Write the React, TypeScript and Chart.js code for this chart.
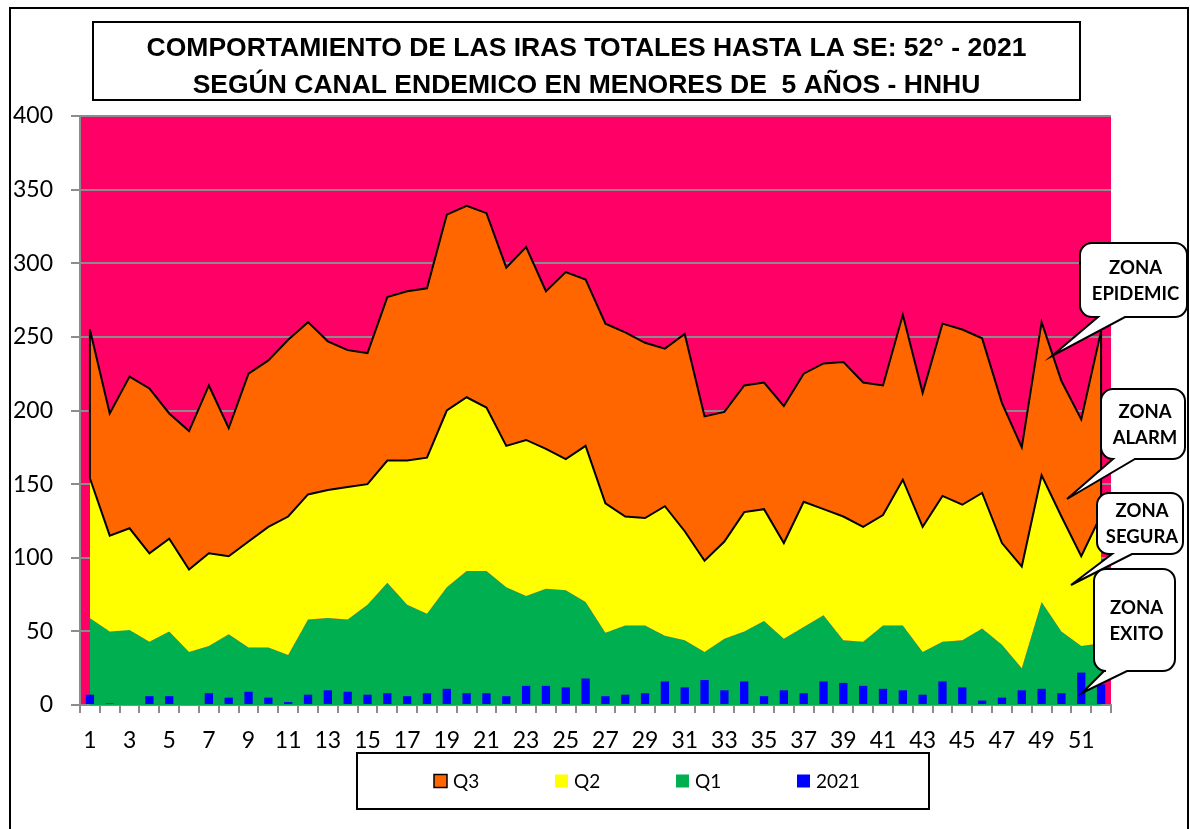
import React, { useEffect, useRef } from 'react';
import { Chart, registerables } from 'chart.js';

Chart.register(...registerables);

const WEEKS = ['1','2','3','4','5','6','7','8','9','10','11','12','13','14','15','16','17','18','19','20','21','22','23','24','25','26','27','28','29','30','31','32','33','34','35','36','37','38','39','40','41','42','43','44','45','46','47','48','49','50','51','52'];

const Q3 = [255,198,223,215,198,186,217,188,225,234,248,260,247,241,239,277,281,283,333,339,334,297,311,281,294,289,259,253,246,242,252,196,199,217,219,203,225,232,233,219,217,265,212,259,255,249,205,175,260,220,194,254];
const Q2 = [154,115,120,103,113,92,103,101,111,121,128,143,146,148,150,166,166,168,200,209,202,176,180,174,167,176,137,128,127,135,118,98,111,131,133,110,138,133,128,121,129,153,121,142,136,144,110,94,156,128,101,129];
const Q1 = [59,50,51,43,50,36,40,48,39,39,34,58,59,58,68,83,68,62,80,91,91,80,74,79,78,70,49,54,54,47,44,36,45,50,57,45,53,61,44,43,54,54,36,43,44,52,41,25,70,50,40,42];
const Y2021 = [7,1,0,6,6,0,8,5,9,5,2,7,10,9,7,8,6,8,11,8,8,6,13,13,12,18,6,7,8,16,12,17,10,16,6,10,8,16,15,13,11,10,7,16,12,3,5,10,11,8,22,14];

const SERIES_LABELS = ['Q3', 'Q2', 'Q1', '2021'];
const Y_MIN = 0;
const Y_MAX = 400;
const Y_STEP = 50;

const TITLE_LINES = [
  'COMPORTAMIENTO DE LAS IRAS TOTALES HASTA LA SE: 52° - 2021',
  'SEGÚN CANAL ENDEMICO EN MENORES DE  5 AÑOS - HNHU',
];

const ZONE_LABELS = [
  ['ZONA', 'EPIDEMIC'],
  ['ZONA', 'ALARM'],
  ['ZONA', 'SEGURA'],
  ['ZONA', 'EXITO'],
];

// callout geometry (box x0,y0,x1,y1, tail base left/right, tail tip)
const CALLOUT_LAYOUT = [
  { x0: 1080, y0: 243, x1: 1187, y1: 317, bl: 1098, br: 1125, tx: 1052, ty: 356 },
  { x0: 1101, y0: 389, x1: 1185, y1: 459, bl: 1113, br: 1135, tx: 1067, ty: 499 },
  { x0: 1097, y0: 493, x1: 1183, y1: 554, bl: 1112, br: 1132, tx: 1071, ty: 585 },
  { x0: 1094, y0: 569, x1: 1175, y1: 671, bl: 1104, br: 1127, tx: 1082, ty: 693 },
];

const COLORS = {
  epidemic: '#FF0066',
  q3: '#FF6600',
  q2: '#FFFF00',
  q1: '#00B050',
  y2021: '#0000FF',
  grid: '#8C8C8C',
};

const TICK_FONT = { family: 'Lato, "Open Sans", sans-serif', size: 23 };

function calloutPath(ctx: CanvasRenderingContext2D, c: any, r: number) {
  const { x0, y0, x1, y1, bl, br, tx, ty } = c;
  ctx.beginPath();
  ctx.moveTo(x0 + r, y0);
  ctx.lineTo(x1 - r, y0);
  ctx.arcTo(x1, y0, x1, y0 + r, r);
  ctx.lineTo(x1, y1 - r);
  ctx.arcTo(x1, y1, x1 - r, y1, r);
  ctx.lineTo(br, y1);
  ctx.lineTo(tx, ty);
  ctx.lineTo(bl, y1);
  ctx.lineTo(x0 + r, y1);
  ctx.arcTo(x0, y1, x0, y1 - r, r);
  ctx.lineTo(x0, y0 + r);
  ctx.arcTo(x0, y0, x0 + r, y0, r);
  ctx.closePath();
}

const decorPlugin = {
  id: 'decor',
  beforeDraw(chart: any) {
    const { ctx, chartArea: a } = chart;
    ctx.save();
    ctx.fillStyle = COLORS.epidemic;
    ctx.fillRect(a.left, a.top, a.right - a.left, a.bottom - a.top);
    ctx.restore();
  },
  afterDatasetsDraw(chart: any) {
    const { ctx } = chart;
    const top = chart.getDatasetMeta(0).data;
    const bot = chart.getDatasetMeta(1).data;
    ctx.save();
    ctx.strokeStyle = '#000';
    ctx.lineWidth = 2;
    [0, top.length - 1].forEach((i) => {
      ctx.beginPath();
      ctx.moveTo(top[i].x, top[i].y);
      ctx.lineTo(bot[i].x, bot[i].y);
      ctx.stroke();
    });
    ctx.restore();
  },
  afterDraw(chart: any) {
    const { ctx } = chart;
    ctx.save();
    // outer frame
    ctx.strokeStyle = '#000';
    ctx.lineWidth = 2;
    ctx.beginPath();
    ctx.moveTo(10, 850);
    ctx.lineTo(10, 8);
    ctx.lineTo(1188, 8);
    ctx.lineTo(1188, 850);
    ctx.stroke();

    // title box
    ctx.fillStyle = '#fff';
    ctx.fillRect(93, 22, 987, 78);
    ctx.strokeRect(93, 22, 987, 78);
    ctx.fillStyle = '#000';
    ctx.font = 'bold 26.5px "Liberation Sans", Arial, sans-serif';
    ctx.textAlign = 'center';
    ctx.textBaseline = 'middle';
    ctx.fillText(TITLE_LINES[0], 586.5, 49);
    ctx.fillText(TITLE_LINES[1], 586.5, 86);

    // legend box
    ctx.strokeRect(357, 753, 572, 56);
    const ds = chart.data.datasets;
    ctx.font = '19px Lato, "Open Sans", sans-serif';
    ctx.textAlign = 'left';
    ds.forEach((d: any, i: number) => {
      const sx = 434 + i * 121;
      const sy = 781;
      ctx.fillStyle = d.backgroundColor;
      ctx.fillRect(sx, sy - 6.5, 13, 13);
      if (d.legendBorder) {
        ctx.lineWidth = 1.5;
        ctx.strokeStyle = '#000';
        ctx.strokeRect(sx, sy - 6.5, 13, 13);
      }
      ctx.fillStyle = '#000';
      ctx.fillText(d.label, sx + 19, sy + 1);
    });

    // callouts
    ctx.lineWidth = 2;
    ctx.strokeStyle = '#000';
    CALLOUT_LAYOUT.forEach((c, i) => {
      calloutPath(ctx, c, 12);
      ctx.fillStyle = '#fff';
      ctx.fill();
      ctx.stroke();
      ctx.fillStyle = '#000';
      ctx.font = 'bold 18.5px Lato, "Open Sans", sans-serif';
      ctx.textAlign = 'center';
      ctx.textBaseline = 'middle';
      const cx = (c.x0 + c.x1) / 2 + 2;
      const cy = (c.y0 + c.y1) / 2;
      ctx.fillText(ZONE_LABELS[i][0], cx, cy - 12);
      ctx.fillText(ZONE_LABELS[i][1], cx, cy + 14);
    });
    ctx.restore();
  },
};

export default function App() {
  const ref = useRef<HTMLCanvasElement | null>(null);

  useEffect(() => {
    if (!ref.current) return;
    const chart = new Chart(ref.current, {
      type: 'bar',
      data: {
        labels: WEEKS,
        datasets: [
          {
            type: 'line',
            label: SERIES_LABELS[0],
            data: Q3,
            backgroundColor: COLORS.q3,
            borderColor: '#000',
            borderWidth: 2,
            fill: '+1',
            pointRadius: 0,
            tension: 0,
            order: 1,
            legendBorder: true,
          } as any,
          {
            type: 'line',
            label: SERIES_LABELS[1],
            data: Q2,
            backgroundColor: COLORS.q2,
            borderColor: '#000',
            borderWidth: 2,
            fill: '+1',
            pointRadius: 0,
            tension: 0,
            order: 1,
          } as any,
          {
            type: 'line',
            label: SERIES_LABELS[2],
            data: Q1,
            backgroundColor: COLORS.q1,
            borderColor: 'rgba(0,0,0,0)',
            borderWidth: 0,
            fill: 'origin',
            pointRadius: 0,
            tension: 0,
            order: 1,
          } as any,
          {
            type: 'bar',
            label: SERIES_LABELS[3],
            data: Y2021,
            backgroundColor: COLORS.y2021,
            barPercentage: 0.42,
            categoryPercentage: 1,
            order: 0,
          } as any,
        ],
      },
      options: {
        animation: false,
        responsive: false,
        devicePixelRatio: 1,
        layout: { padding: { top: 116, left: 0, right: 79, bottom: 64 } },
        plugins: {
          legend: { display: false },
          tooltip: { enabled: false },
          filler: { drawTime: 'beforeDatasetsDraw' },
        },
        scales: {
          x: {
            offset: true,
            ticks: {
              autoSkip: false,
              maxRotation: 0,
              minRotation: 0,
              padding: 14,
              color: '#000',
              font: TICK_FONT,
              callback: (_v: any, i: number) => (i % 2 === 0 ? WEEKS[i] : ''),
            },
            grid: { drawOnChartArea: false, tickLength: 8, color: COLORS.grid, lineWidth: 2, offset: true },
            border: { color: COLORS.grid, width: 2 },
            afterFit: (s: any) => { s.height = 60; },
          },
          y: {
            min: Y_MIN,
            max: Y_MAX,
            ticks: { stepSize: Y_STEP, padding: 18, color: '#000', font: TICK_FONT },
            grid: { color: COLORS.grid, lineWidth: 2, tickLength: 9 },
            border: { color: COLORS.grid, width: 2 },
            afterFit: (s: any) => { s.width = 80; },
          },
        },
      } as any,
      plugins: [decorPlugin],
    });
    return () => chart.destroy();
  }, []);

  return (
    <div style={{ position: 'absolute', left: 0, top: 0, width: 1190, height: 829, background: '#fff' }}>
      <canvas ref={ref} width={1190} height={829} style={{ width: 1190, height: 829, display: 'block' }} />
    </div>
  );
}
